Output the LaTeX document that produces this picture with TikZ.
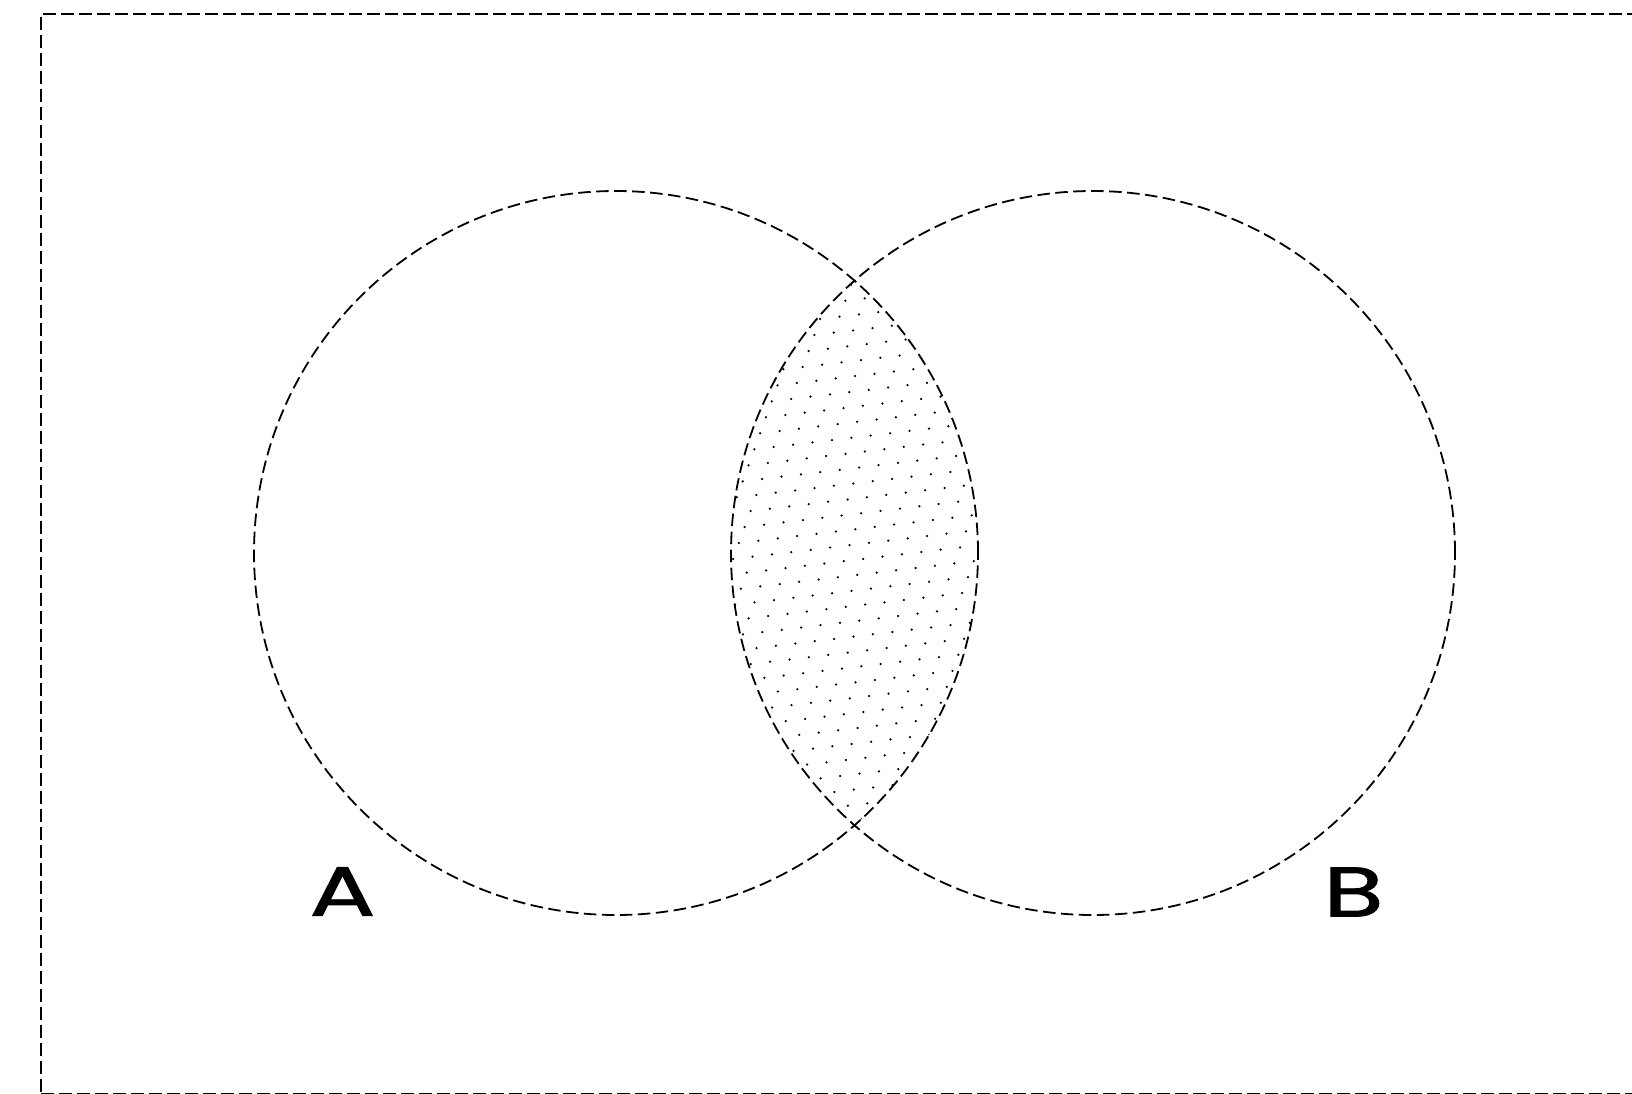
\documentclass[tikz,border=0pt]{standalone}
\usepackage{fontspec}
\newfontfamily\lblfont[FakeBold=1.2]{Poppins}
\begin{document}
\begin{tikzpicture}[x=1pt,y=-1pt]
\tikzset{
  frame/.style={draw=black,line width=1.8pt,dash pattern=on 13pt off 5pt},
  setcircle/.style={draw=black,line width=1.8pt,dash pattern=on 12.5pt off 5.5pt,circle,minimum size=724pt,inner sep=0pt},
  setlabel/.style={inner sep=0pt,font=\lblfont\fontsize{70}{70}\selectfont,xscale=1.4},
  dotmark/.style={fill=black}
}
\useasboundingbox (0,0) rectangle (1632,1094);
\node[draw=none,inner sep=0pt,minimum width=1700pt,minimum height=1079pt,anchor=north west,frame] (frm) at (40,13.5) {};
\coordinate (cA) at (616,553);
\coordinate (cB) at (1093,553);
\begin{scope}
  \clip (cA) circle[radius=362];
  \clip (cB) circle[radius=362];
  \foreach \i in {-20,...,25}{
    \foreach \j in {-20,...,30}{
      \fill[dotmark] ({787.3+19.4*\i-5.8*\j},{460.7-2.3*\i+16*\j}) circle[radius=1.25];
    }
  }
\end{scope}
\node[setcircle] (A) at (cA) {};
\node[setcircle] (B) at (cB) {};
\node[setlabel] (la) at (342.5,891.5) {A};
\node[setlabel] (lb) at (1353.5,892) {B};
\end{tikzpicture}
\end{document}
